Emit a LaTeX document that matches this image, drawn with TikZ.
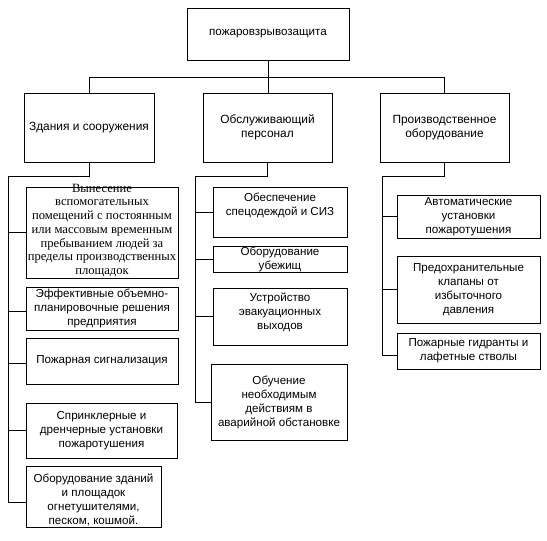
\documentclass[tikz,border=0pt]{standalone}
\usepackage{fontspec}
\setmainfont{Liberation Sans}
\newfontfamily\timesfont{Liberation Serif}
\usetikzlibrary{calc}
\begin{document}
\begin{tikzpicture}[x=1pt,y=1pt,
  box/.style={draw, line width=0.8pt, inner sep=0pt, align=center, font=\fontsize{11.6}{14}\selectfont},
  txt/.style={inner sep=0pt, align=center, font=\fontsize{11.6}{14}\selectfont},
  conn/.style={line width=0.8pt}]
\path[use as bounding box, fill=white] (0,0) rectangle (547,-541);
% top
\node[box, minimum width=162, minimum height=52] (top) at (268,-34) {пожаровзрывозащита};
% level 2
\node[box, minimum width=130, minimum height=69, font=\fontsize{11.9}{14.5}\selectfont] (L0) at (89,-127.5) {Здания и сооружения};
\node[box, minimum width=129, minimum height=69, font=\fontsize{11.9}{14.5}\selectfont] (M0) at (267.5,-127.5) {Обслуживающий\\персонал};
\node[box, minimum width=129, minimum height=69, font=\fontsize{11.9}{14.5}\selectfont] (R0) at (444.5,-127.5) {Производственное\\оборудование};
% left column
\node[box, minimum width=152, minimum height=91] (L1) at (102,-232.5) {};
\node[txt, font=\timesfont\fontsize{12.6}{13.7}\selectfont] (L1t) at (102,-230.5) {Вынесение\\вспомогательных\\помещений с постоянным\\или массовым временным\\пребыванием людей за\\пределы производственных\\площадок};
\node[box, minimum width=152, minimum height=43] (L2) at (102,-308.5) {Эффективные объемно-\\планировочные решения\\предприятия};
\node[box, minimum width=152, minimum height=46] (L3) at (102,-361) {Пожарная сигнализация};
\node[box, minimum width=151, minimum height=55] (L4) at (101.5,-430.5) {Спринклерные и\\дренчерные установки\\пожаротушения};
\node[box, minimum width=135, minimum height=61] (L5) at (93.5,-496.5) {};
\node[txt] (L5t) at (93.5,-499.5) {Оборудование зданий\\и площадок\\огнетушителями,\\песком, кошмой.};
% middle column
\node[box, minimum width=134, minimum height=50] (M1) at (280,-212) {};
\node[txt] (M1t) at (280,-205) {Обеспечение\\спецодеждой и СИЗ};
\node[box, minimum width=134, minimum height=26] (M2) at (280,-259) {};
\node[txt] (M2t) at (280,-259.5) {Оборудование\\убежищ};
\node[box, minimum width=134, minimum height=57] (M3) at (280,-316.5) {};
\node[txt] (M3t) at (280,-312.5) {Устройство\\эвакуационных\\выходов};
\node[box, minimum width=136, minimum height=76] (M4) at (279,-402) {Обучение\\необходимым\\действиям в\\аварийной обстановке};
% right column
\node[box, minimum width=143, minimum height=43] (R1) at (468.5,-216.5) {Автоматические\\установки\\пожаротушения};
\node[box, minimum width=143, minimum height=67] (R2) at (468.5,-289.5) {Предохранительные\\клапаны от\\избыточного\\давления};
\node[box, minimum width=143, minimum height=36] (R3) at (468.5,-351) {Пожарные гидранты и\\лафетные стволы};
% connectors top
\coordinate (hub) at ($(top.south)+(0,-17)$);
\draw[conn] (top.south) -- (top.south |- M0.north);
\draw[conn] (L0.north) |- (hub) -| (R0.north);
% column trunks
\coordinate (Lt) at (8,-176);
\coordinate (Mt) at (195,-176);
\coordinate (Rt) at (382,-176);
\coordinate (l2b) at ([yshift=-2.5pt]L2.west);
\coordinate (l3b) at ([yshift=-2pt]L3.west);
\coordinate (l5b) at ([yshift=-5.5pt]L5.west);
\coordinate (r3b) at ([yshift=-4pt]R3.west);
\draw[conn] (L0.south) |- (Lt) -- (Lt |- l5b);
\draw[conn] (M0.south) |- (Mt) -- (Mt |- M4.west);
\draw[conn] (R0.south) |- (Rt) -- (Rt |- r3b);
% branches
\draw[conn] (L1.west) -- (L1.west -| Lt);
\draw[conn] (l2b) -- (l2b -| Lt);
\draw[conn] (l3b) -- (l3b -| Lt);
\draw[conn] (L4.west) -- (L4.west -| Lt);
\draw[conn] (l5b) -- (l5b -| Lt);
\draw[conn] (M1.west) -- (M1.west -| Mt);
\draw[conn] (M2.west) -- (M2.west -| Mt);
\draw[conn] (M3.west) -- (M3.west -| Mt);
\draw[conn] (M4.west) -- (M4.west -| Mt);
\draw[conn] (R1.west) -- (R1.west -| Rt);
\draw[conn] (R2.west) -- (R2.west -| Rt);
\draw[conn] (r3b) -- (r3b -| Rt);
\end{tikzpicture}
\end{document}
